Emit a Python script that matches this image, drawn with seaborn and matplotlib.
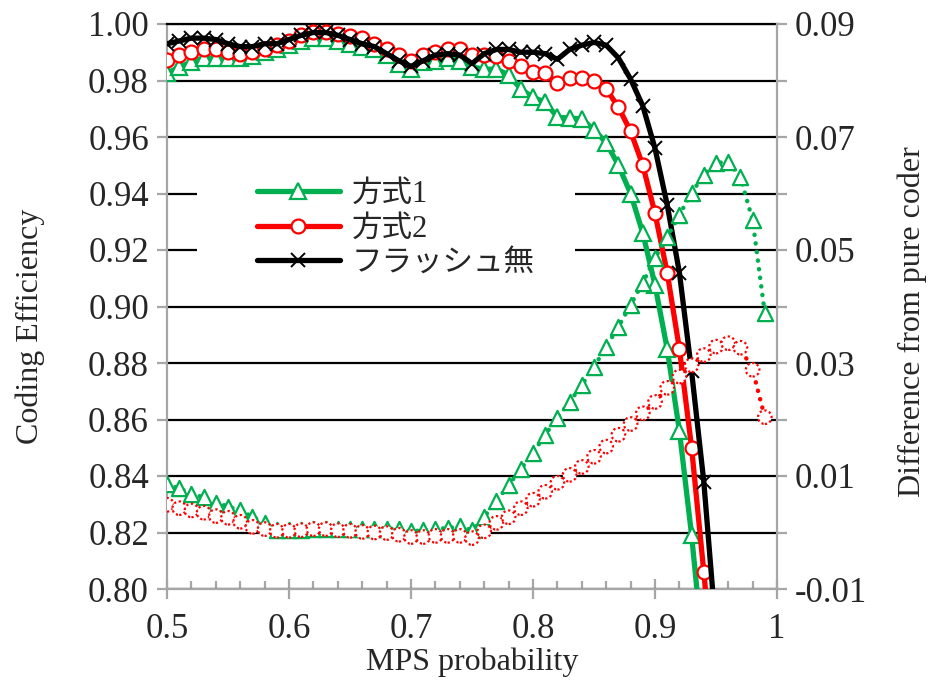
import matplotlib
matplotlib.use("Agg")
import matplotlib.pyplot as plt
from matplotlib.patches import Rectangle
from matplotlib.ticker import FixedLocator, FixedFormatter, MultipleLocator
from matplotlib.font_manager import FontProperties
import pandas as pd
import seaborn as sns

# MPS probability grid
mps = [0.50, 0.51, 0.52, 0.53, 0.54, 0.55, 0.56, 0.57, 0.58, 0.59,
       0.60, 0.61, 0.62, 0.63, 0.64, 0.65, 0.66, 0.67, 0.68, 0.69,
       0.70, 0.71, 0.72, 0.73, 0.74, 0.75, 0.76, 0.77, 0.78, 0.79,
       0.80, 0.81, 0.82, 0.83, 0.84, 0.85, 0.86, 0.87, 0.88, 0.89,
       0.90, 0.91, 0.92, 0.93, 0.94, 0.95, 0.96, 0.97, 0.98, 0.99]

# Coding efficiency (left axis)
eff_method1 = [0.9826, 0.9847, 0.9865, 0.9880, 0.9880, 0.9880, 0.9880, 0.9885, 0.9900, 0.9910,
               0.9926, 0.9940, 0.9950, 0.9950, 0.9940, 0.9930, 0.9920, 0.9910, 0.9890, 0.9860,
               0.9840, 0.9865, 0.9870, 0.9880, 0.9870, 0.9848, 0.9840, 0.9840, 0.9820, 0.9770,
               0.9740, 0.9724, 0.9670, 0.9667, 0.9664, 0.9625, 0.9580, 0.9500, 0.9400, 0.9260,
               0.9076, 0.8850, 0.8560, 0.8190, 0.7750]
eff_method2 = [0.9873, 0.9890, 0.9900, 0.9910, 0.9910, 0.9900, 0.9895, 0.9900, 0.9910, 0.9925,
               0.9940, 0.9960, 0.9970, 0.9970, 0.9965, 0.9957, 0.9950, 0.9930, 0.9910, 0.9890,
               0.9870, 0.9890, 0.9900, 0.9910, 0.9910, 0.9890, 0.9890, 0.9885, 0.9870, 0.9850,
               0.9830, 0.9826, 0.9790, 0.9810, 0.9810, 0.9800, 0.9770, 0.9706, 0.9620, 0.9500,
               0.9330, 0.9120, 0.8850, 0.8500, 0.8060, 0.7600]
eff_noflush = [0.9930, 0.9940, 0.9950, 0.9950, 0.9945, 0.9930, 0.9920, 0.9920, 0.9930, 0.9930,
               0.9945, 0.9960, 0.9970, 0.9970, 0.9960, 0.9945, 0.9930, 0.9920, 0.9895, 0.9870,
               0.9850, 0.9870, 0.9890, 0.9895, 0.9890, 0.9860, 0.9895, 0.9910, 0.9910, 0.9900,
               0.9900, 0.9895, 0.9875, 0.9910, 0.9925, 0.9935, 0.9925, 0.9880, 0.9805, 0.9710,
               0.9560, 0.9360, 0.9120, 0.8770, 0.8380, 0.7850]

# Difference from pure coder (right axis)
diff_method1 = [0.0085, 0.0078, 0.0069, 0.0062, 0.0053, 0.0046, 0.0039, 0.0028, 0.0017, 0.0004,
                0.0004, 0.0005, 0.0006, 0.0006, 0.0007, 0.0007, 0.0007, 0.0007, 0.0007, 0.0006,
                0.0002, 0.0004, 0.0006, 0.0008, 0.0011, 0.0004, 0.0028, 0.0055, 0.0084, 0.0112,
                0.0141, 0.0173, 0.0203, 0.0231, 0.0261, 0.0293, 0.0329, 0.0364, 0.0403, 0.0442,
                0.0486, 0.0523, 0.0562, 0.0601, 0.0633, 0.0654, 0.0656, 0.0629, 0.0553, 0.0388]
diff_method2 = [0.0049, 0.0043, 0.0039, 0.0035, 0.0029, 0.0026, 0.0019, 0.0010, 0.0006, 0.0003,
                0.0003, 0.0004, 0.0006, 0.0006, 0.0004, 0.0003, 0.0001, 0.0000, -0.0001, -0.0004,
                -0.0008, -0.0008, -0.0006, -0.0006, -0.0006, -0.0010, 0.0002, 0.0017, 0.0027, 0.0043,
                0.0058, 0.0072, 0.0088, 0.0102, 0.0116, 0.0134, 0.0152, 0.0173, 0.0192, 0.0211,
                0.0231, 0.0256, 0.0276, 0.0296, 0.0314, 0.0329, 0.0335, 0.0327, 0.0288, 0.0204]

series_labels = ["方式1", "方式2", "フラッシュ無"]

left_ticks = [0.80, 0.82, 0.84, 0.86, 0.88, 0.90, 0.92, 0.94, 0.96, 0.98, 1.00]
right_major = [-0.01, 0.01, 0.03, 0.05, 0.07, 0.09]
right_minor = [0.00, 0.02, 0.04, 0.06, 0.08]
x_ticks = [0.5, 0.6, 0.7, 0.8, 0.9, 1.0]
x_tick_labels = ["0.5", "0.6", "0.7", "0.8", "0.9", "1"]

GREEN = "#00B050"
RED = "#FF0000"
BLACK = "#000000"
AXIS_GRAY = "#A6A6A6"

sns.set_style("white")
plt.rcParams["font.family"] = ["Liberation Serif", "Noto Sans CJK JP"]
plt.rcParams["axes.unicode_minus"] = False

W, H = 931, 681
fig = plt.figure(figsize=(W / 100, H / 100), dpi=100)
ax = fig.add_axes([167 / W, 1 - 589 / H, 610 / W, 565 / H])

# Efficiency curves (solid, open markers)
solid_specs = [
    (eff_method1, GREEN, "^", 11, 1.6, series_labels[0]),
    (eff_method2, RED, "o", 10, 1.6, series_labels[1]),
    (eff_noflush, BLACK, "x", 10, 1.4, series_labels[2]),
]
for vals, color, marker, ms, mew, label in solid_specs:
    df = pd.DataFrame({"p": mps[:len(vals)], "eff": vals})
    sns.lineplot(data=df, x="p", y="eff", ax=ax, color=color, lw=3.8,
                 marker=marker, markersize=ms, markerfacecolor="white",
                 markeredgecolor=color, markeredgewidth=mew,
                 label=label, legend=False, zorder=3,
                 solid_joinstyle="round")

ax.set_xlim(0.5, 1.0)
ax.set_ylim(0.80, 1.00)
ax.set_axisbelow(True)
ax.yaxis.set_major_locator(FixedLocator(left_ticks))
ax.set_yticklabels([f"{v:.2f}" for v in left_ticks])
ax.xaxis.set_major_locator(FixedLocator(x_ticks))
ax.set_xticklabels(x_tick_labels)
ax.xaxis.set_minor_locator(MultipleLocator(0.02))
ax.yaxis.grid(True, color="black", lw=1.6)
ax.xaxis.grid(False)

# white area behind the legend
ax.add_patch(Rectangle((0.049, 0.53), 0.62, 0.22, transform=ax.transAxes,
                       facecolor="white", edgecolor="none", zorder=1))

for side in ("left", "bottom"):
    ax.spines[side].set_color(AXIS_GRAY)
    ax.spines[side].set_linewidth(1.6)
ax.spines["right"].set_visible(False)
ax.spines["top"].set_color("black")
ax.spines["top"].set_linewidth(1.6)

ax.tick_params(axis="y", which="major", direction="out", length=7, width=1.6,
               color=AXIS_GRAY, labelsize=25, pad=6, left=True)
ax.tick_params(axis="x", which="major", direction="inout", length=14, width=1.6,
               color=AXIS_GRAY, labelsize=25, pad=10, bottom=True)
ax.tick_params(axis="x", which="minor", direction="in", length=6, width=1.6,
               color=AXIS_GRAY, bottom=True)

ax.set_xlabel("MPS probability", fontsize=23)
ax.set_ylabel("Coding Efficiency", fontsize=23)
ax.xaxis.set_label_coords(0.5, -0.103)
ax.yaxis.set_label_coords(-0.200, 0.465)

# Difference curves on the secondary axis (dotted)
ax2 = ax.twinx()
dot_specs = [
    (diff_method1, GREEN, "^", 120, "solid"),
    (diff_method2, RED, "o", 95, (0, (1, 1.2))),
]
for vals, color, marker, s, edge_style in dot_specs:
    df = pd.DataFrame({"p": mps, "diff": vals})
    sns.lineplot(data=df, x="p", y="diff", ax=ax2, color=color, lw=3.2,
                 linestyle=(0, (0.05, 1.9)), dash_capstyle="round",
                 legend=False, zorder=3)
    sns.scatterplot(data=df, x="p", y="diff", ax=ax2, marker=marker, s=s,
                    facecolor="white", edgecolor=color, linewidth=1.6,
                    linestyle=edge_style, legend=False, zorder=4)

ax2.set_ylim(-0.01, 0.09)
ax2.yaxis.set_major_locator(FixedLocator(right_major))
ax2.yaxis.set_major_formatter(FixedFormatter([f"{v:.2f}" for v in right_major]))
ax2.yaxis.set_minor_locator(FixedLocator(right_minor))
ax2.grid(False)
for side in ("left", "bottom", "top"):
    ax2.spines[side].set_visible(False)
ax2.spines["right"].set_color(AXIS_GRAY)
ax2.spines["right"].set_linewidth(1.6)
ax2.tick_params(axis="y", which="both", direction="out", length=7, width=1.6,
                color=AXIS_GRAY, labelsize=25, pad=6, right=True)
ax2.set_xlabel("")
ax2.set_ylabel("Difference from pure coder", fontsize=23)
ax2.yaxis.set_label_coords(1.198, 0.474)

leg = ax.legend(loc="upper left", bbox_to_anchor=(257 / W, 1 - 180 / H),
                bbox_transform=fig.transFigure, frameon=False,
                prop=FontProperties(family=["Liberation Serif", "Noto Sans CJK JP"], size=22),
                handlelength=2.7, handletextpad=0.4, labelspacing=0.18,
                borderpad=0, borderaxespad=0)
leg.set_zorder(10)

fig.savefig("out.png", dpi=100)
